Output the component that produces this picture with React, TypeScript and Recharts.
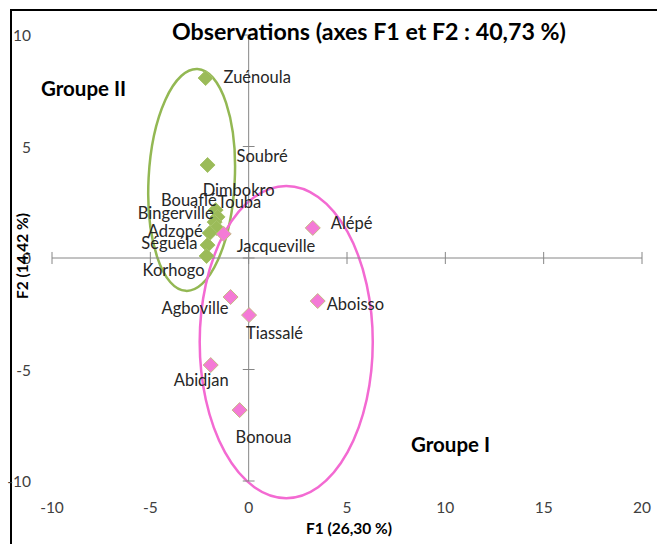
import { ReferenceArea, ReferenceLine, Scatter, ScatterChart, XAxis, YAxis } from "recharts";

// Towns and their coordinates on the first two factorial axes
const groupIINames = ["Zuénoula", "Soubré", "Dimbokro", "Touba", "Bouaflé", "Bingerville", "Adzopé", "Séguéla", "Korhogo"];
const groupIIF1 = [-2.19, -2.09, -1.68, -1.58, -1.73, -1.63, -1.98, -2.09, -2.14];
const groupIIF2 = [8.07, 4.17, 2.15, 1.84, 1.61, 1.35, 1.12, 0.58, 0.09];

const groupINames = ["Jacqueville", "Alépé", "Agboville", "Aboisso", "Tiassalé", "Abidjan", "Bonoua"];
const groupIF1 = [-1.27, 3.26, -0.92, 3.51, 0.02, -1.93, -0.46];
const groupIF2 = [1.08, 1.35, -1.75, -1.93, -2.56, -4.8, -6.82];

const xTicks = [-10, -5, 0, 5, 10, 15, 20];
const yTicks = [-10, -5, 0, 5, 10];

// group outlines: [F1 min, F1 max, F2 min, F2 max]
const groupIIOutline = [-5.09, -0.71, -1.48, 8.48];
const groupIOutline = [-2.49, 6.31, -10.77, 3.23];

const GREEN = "#9bbb59";
const PINK = "#f47ad6";
const FONT = "Lato, 'Open Sans', sans-serif";

// where each data label sits relative to its marker
const labelPlacement: Record<string, ["start" | "middle" | "end", number, number]> = {
  "Zuénoula": ["start", 18, -1],
  "Soubré": ["start", 29, -9],
  "Dimbokro": ["start", -13, -20],
  "Touba": ["start", 0, -15],
  "Bouaflé": ["end", 2, -22],
  "Bingerville": ["end", -3, -15],
  "Adzopé": ["end", -7, -2],
  "Séguéla": ["end", -10, -2],
  "Korhogo": ["end", -2, 14],
  "Jacqueville": ["start", 13, 12],
  "Alépé": ["start", 18, -5],
  "Agboville": ["end", -2, 11],
  "Aboisso": ["start", 9, 3],
  "Tiassalé": ["start", -3, 18],
  "Abidjan": ["end", 18, 15],
  "Bonoua": ["start", -4, 27],
};

const toPoints = (names: string[], f1: number[], f2: number[]) =>
  names.map((name, i) => ({ name, x: f1[i], y: f2[i] }));

const groupII = toPoints(groupIINames, groupIIF1, groupIIF2);
const groupI = toPoints(groupINames, groupIF1, groupIF2);

function makeMarker(fill: string, stroke: string) {
  return (props: any) => {
    const { cx, cy, payload } = props;
    const r = 7.5;
    const [anchor, dx, dy] = labelPlacement[payload.name] ?? ["start", 10, 0];
    return (
      <g>
        <path
          d={`M${cx},${cy - r}L${cx + r},${cy}L${cx},${cy + r}L${cx - r},${cy}Z`}
          fill={fill}
          stroke={stroke}
          strokeWidth={1}
        />
        <text
          x={cx + dx}
          y={cy + dy}
          textAnchor={anchor}
          dominantBaseline="central"
          fontFamily={FONT}
          fontSize={16.5}
          fill="#262626"
        >
          {payload.name}
        </text>
      </g>
    );
  };
}

function makeEllipse(stroke: string, angle: number) {
  return (props: any) => {
    const { x, y, width, height } = props;
    const cx = x + width / 2;
    const cy = y + height / 2;
    return (
      <ellipse
        cx={cx}
        cy={cy}
        rx={width / 2}
        ry={height / 2}
        fill="none"
        stroke={stroke}
        strokeWidth={2.5}
        transform={`rotate(${angle} ${cx} ${cy})`}
      />
    );
  };
}

const XTick = (props: any) => (
  <text x={props.x} y={props.y + 26} textAnchor="middle" dominantBaseline="central" fontFamily={FONT} fontSize={15.5} fill="#404040">
    {props.payload.value}
  </text>
);

const YTick = (props: any) => (
  <text x={props.x - 21} y={props.y} textAnchor="end" dominantBaseline="central" fontFamily={FONT} fontSize={15.5} fill="#404040">
    {props.payload.value}
  </text>
);

const text = (style: React.CSSProperties) => ({
  position: "absolute" as const,
  fontFamily: FONT,
  fontWeight: 700,
  color: "#000",
  whiteSpace: "nowrap" as const,
  lineHeight: 1,
  ...style,
});

export default function App() {
  return (
    <div style={{ position: "fixed", left: 0, top: 0, width: 657, height: 544, overflow: "hidden", background: "#fff" }}>
      <div
        style={{
          position: "absolute",
          left: 10,
          top: 9,
          width: 660,
          height: 560,
          borderLeft: "2px solid #000",
          borderTop: "2px solid #000",
        }}
      />
      <ScatterChart width={657} height={544} margin={{ top: 35, right: 15, bottom: 33, left: 12 }}>
        <XAxis
          type="number"
          dataKey="x"
          domain={[-10, 20]}
          ticks={xTicks}
          axisLine={false}
          tickLine={false}
          tickSize={0}
          tickMargin={0}
          height={30}
          tick={<XTick />}
          interval={0}
        />
        <YAxis
          type="number"
          dataKey="y"
          domain={[-10, 10]}
          ticks={yTicks}
          axisLine={false}
          tickLine={false}
          tickSize={0}
          tickMargin={0}
          width={40}
          tick={<YTick />}
          interval={0}
        />
        <ReferenceLine y={0} stroke="#868686" strokeWidth={1} />
        <ReferenceLine x={0} stroke="#868686" strokeWidth={1} />
        {xTicks.map((t) => (
          <ReferenceLine key={`xt${t}`} segment={[{ x: t, y: -0.27 }, { x: t, y: 0.27 }]} stroke="#868686" />
        ))}
        {yTicks.map((t) => (
          <ReferenceLine key={`yt${t}`} segment={[{ x: -0.3, y: t }, { x: 0.3, y: t }]} stroke="#868686" />
        ))}
        <Scatter data={groupII} shape={makeMarker(GREEN, "#a6c46a")} isAnimationActive={false} />
        <Scatter data={groupI} shape={makeMarker(PINK, "#c6b983")} isAnimationActive={false} />
        <ReferenceArea
          x1={groupIIOutline[0]}
          x2={groupIIOutline[1]}
          y1={groupIIOutline[2]}
          y2={groupIIOutline[3]}
          ifOverflow="visible"
          shape={makeEllipse("#93b853", 3)}
        />
        <ReferenceArea
          x1={groupIOutline[0]}
          x2={groupIOutline[1]}
          y1={groupIOutline[2]}
          y2={groupIOutline[3]}
          ifOverflow="visible"
          shape={makeEllipse("#f36ad2", 0)}
        />
      </ScatterChart>
      <div style={text({ left: 369, top: 32, fontSize: 23.2, transform: "translate(-50%, -50%)" })}>
        Observations (axes F1 et F2 : 40,73 %)
      </div>
      <div style={text({ left: 41, top: 88, fontSize: 20.5, transform: "translateY(-50%)" })}>Groupe II</div>
      <div style={text({ left: 411, top: 444, fontSize: 20.5, transform: "translateY(-50%)" })}>Groupe I</div>
      <div style={text({ left: 349, top: 529, fontSize: 15.5, transform: "translate(-50%, -50%)" })}>F1 (26,30 %)</div>
      <div
        style={text({
          left: 23,
          top: 256,
          fontSize: 15.5,
          transform: "translate(-50%, -50%) rotate(-90deg)",
        })}
      >
        F2 (14,42 %)
      </div>
    </div>
  );
}
